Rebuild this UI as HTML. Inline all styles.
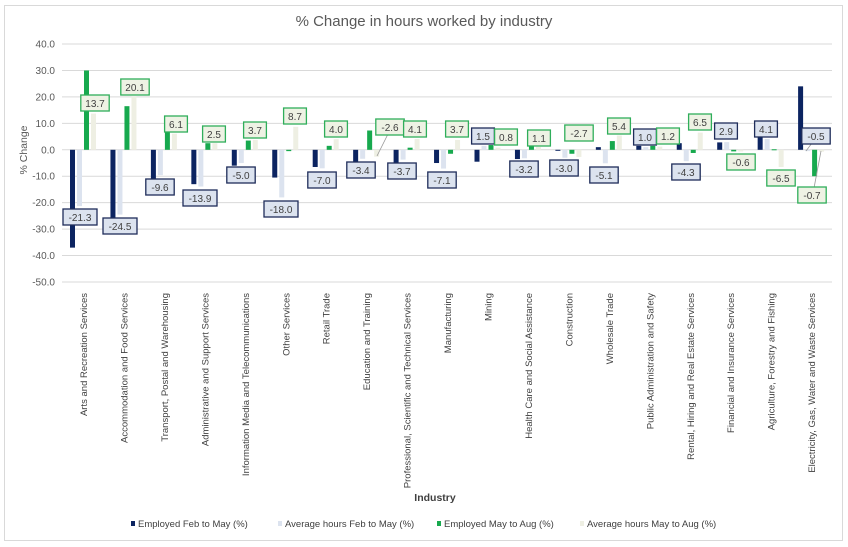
<!DOCTYPE html>
<html><head><meta charset="utf-8"><style>
html,body{margin:0;padding:0;background:#fff;}
svg{display:block;font-family:"Liberation Sans",sans-serif;}
</style></head><body>
<svg id="s" width="848" height="547" xmlns="http://www.w3.org/2000/svg"></svg>
<script>
const s=document.getElementById('s');
let h='';
h+='<rect x="4.5" y="5.5" width="838" height="535" fill="#fff" stroke="#d9d9d9"/>';
h+='<text x="424" y="26" text-anchor="middle" font-size="15" fill="#595959">% Change in hours worked by industry</text>';
const y0=149.8,k=2.644;
const Y=v=>y0-v*k;
for(let v=40;v>=-50;v-=10){const y=Y(v);
h+=`<line x1="62" x2="832" y1="${y}" y2="${y}" stroke="#d9d9d9"/>`;
h+=`<text x="55" y="${y+3.5}" text-anchor="end" font-size="10" fill="#595959">${v.toFixed(1)}</text>`;}
h+=`<text transform="translate(27,150) rotate(-90)" text-anchor="middle" font-size="10.5" fill="#595959">% Change</text>`;
const cats=["Arts and Recreation Services","Accommodation and Food Services","Transport, Postal and Warehousing","Administrative and Support Services","Information Media and Telecommunications","Other Services","Retail Trade","Education and Training","Professional, Scientific and Technical Services","Manufacturing","Mining","Health Care and Social Assistance","Construction","Wholesale Trade","Public Administration and Safety","Rental, Hiring and Real Estate Services","Financial and Insurance Services","Agriculture, Forestry and Fishing","Electricity, Gas, Water and Waste Services"];
const d=[[-37,-21.3,30,13.7],[-31,-24.5,16.5,20.1],[-11,-9.6,7.5,6.1],[-13,-13.9,2.5,2.5],[-6,-5,3.5,3.7],[-10.5,-18,-0.5,8.7],[-6.5,-7,1.5,4],[-4.5,-3.4,7.3,-2.6],[-5,-3.7,0.8,4.1],[-5,-7.1,-1.5,3.7],[-4.5,1.5,1.8,0.8],[-3.5,-3.2,1.5,1.1],[-0.3,-3,-1.5,-2.7],[1,-5.1,3.3,5.4],[1.5,1,1.5,1.2],[2.5,-4.3,-1.2,6.5],[2.8,2.9,-0.6,-0.6],[5.5,4.1,0.2,-6.5],[24,-0.5,-10,-0.7]];
const col=["#0c2461","#dce3ef","#17a94e","#eeefe3"];
const off=[-13,-6,1,8];
cats.forEach((c,i)=>{const cx=83+i*40.45;
d[i].forEach((v,j)=>{const y=Math.min(Y(v),y0),hh=Math.abs(v*k);
h+=`<rect x="${cx+off[j]}" y="${y}" width="5" height="${Math.max(hh,1)}" fill="${col[j]}"/>`;});
h+=`<text transform="translate(${cx+4},293) rotate(-90)" text-anchor="end" font-size="9.5" fill="#404040">${c}</text>`;});
const L=[["-21.3",80,217,0],["13.7",95,103,1],["-24.5",120,226,0],["20.1",135,87,1],["-9.6",160,187,0],["6.1",176,124,1],["-13.9",200,198,0],["2.5",214,134,1],["-5.0",241,175,0],["3.7",255,130,1],["-18.0",281,209,0],["8.7",295,116,1],["-7.0",322,180,0],["4.0",336,129,1],["-3.4",361,170,0],["-2.6",390,127,1],["-3.7",402,171,0],["4.1",415,129,1],["-7.1",442,180,0],["3.7",457,129,1],["1.5",483,136,0],["0.8",506,137,1],["-3.2",524,169,0],["1.1",539,138,1],["-3.0",564,168,0],["-2.7",579,133,1],["-5.1",604,175,0],["5.4",619,126,1],["1.0",645,137,0],["1.2",668,136,1],["-4.3",686,172,0],["6.5",700,122,1],["2.9",726,131,0],["-0.6",741,162,1],["4.1",766,129,0],["-6.5",781,178,1],["-0.5",816,136,0],["-0.7",812,195,1]];
h+='<line x1="377" y1="156" x2="388" y2="134" stroke="#999" stroke-width="0.8"/>';
h+='<line x1="806" y1="151" x2="812" y2="143" stroke="#999" stroke-width="0.8"/>';
h+='<line x1="821" y1="151" x2="814" y2="188" stroke="#999" stroke-width="0.8"/>';
L.forEach(([t,x,y,g])=>{const w=t.length*5.6+6;
h+=`<rect x="${x-w/2}" y="${y-8}" width="${w}" height="16" fill="${g?'#eef2e4':'#dce3ef'}" stroke="${g?'#2fae5a':'#1f2d5a'}" stroke-width="1.3"/>`;
h+=`<text x="${x}" y="${y+3.8}" text-anchor="middle" font-size="10" fill="#404040">${t}</text>`;});
h+='<text x="435" y="501" text-anchor="middle" font-size="10.5" font-weight="bold" fill="#404040">Industry</text>';
const lg=[["Employed Feb to May (%)",131],["Average hours Feb to May (%)",278],["Employed May to Aug (%)",437],["Average hours May to Aug (%)",580]];
lg.forEach(([t,x],j)=>{h+=`<rect x="${x}" y="521" width="4" height="5" fill="${col[j]}"/><text x="${x+7}" y="527" font-size="9.5" fill="#404040">${t}</text>`;});
s.innerHTML=h;
</script>
</body></html>
